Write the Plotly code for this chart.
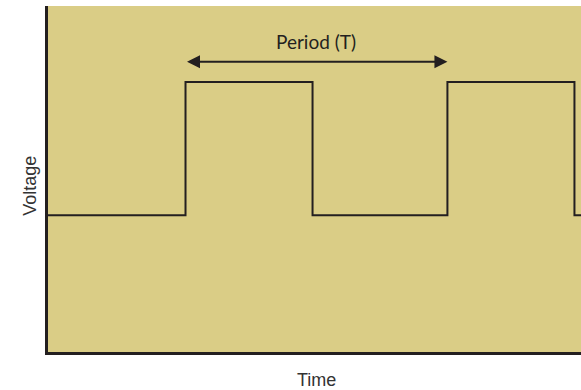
import plotly.graph_objects as go

# square wave (time in half-period units, voltage 0..1)
time = [0, 1.05, 2.02, 3.05, 4.02, 4.07]
voltage = [0.395, 0.78, 0.395, 0.78, 0.395, 0.395]

period_start = 1.05
period_end = 3.05
period_level = 0.839
period_label = "Period (T)"

INK = "#231F20"
TAN = "#DACD86"
TITLE_FONT = dict(family="'Liberation Sans', Arial, sans-serif", size=18, color="#333333")

fig = go.Figure()
fig.add_trace(
    go.Scatter(
        x=time,
        y=voltage,
        mode="lines",
        line=dict(color=INK, width=2, shape="hv"),
        showlegend=False,
        hoverinfo="skip",
    )
)

# double-headed arrow showing one period
fig.add_annotation(
    x=period_end, y=period_level, ax=period_start, ay=period_level,
    xref="x", yref="y", axref="x", ayref="y",
    text="", showarrow=True, arrowhead=2, arrowside="end+start",
    arrowsize=1.3, arrowwidth=2, arrowcolor=INK,
    startarrowhead=2, startarrowsize=1.3,
)
fig.add_annotation(
    x=(period_start + period_end) / 2, y=0.897, xref="x", yref="y",
    text=period_label, showarrow=False,
    font=dict(family="Lato, sans-serif", size=19, color=INK),
)

# axis titles
fig.add_annotation(
    x=-0.034, y=0.48, xref="paper", yref="paper", textangle=-90,
    xanchor="center", yanchor="middle",
    text="Voltage", showarrow=False, font=TITLE_FONT,
)
fig.add_annotation(
    x=0.503, y=-0.082, xref="paper", yref="paper",
    xanchor="center", yanchor="middle",
    text="Time", showarrow=False, font=TITLE_FONT,
)

fig.update_layout(
    width=581,
    height=390,
    margin=dict(l=48, r=0, t=6, b=38),
    paper_bgcolor="white",
    plot_bgcolor=TAN,
    xaxis=dict(
        range=[0, 4.07], showgrid=False, zeroline=False, showticklabels=False,
        ticks="", showline=True, linecolor=INK, linewidth=3, automargin=False,
    ),
    yaxis=dict(
        range=[0, 1], showgrid=False, zeroline=False, showticklabels=False,
        ticks="", showline=True, linecolor=INK, linewidth=3, automargin=False,
    ),
)

fig.write_html(
    "out.html",
    config={"displayModeBar": False},
    post_script="document.body.style.margin='0';",
)
